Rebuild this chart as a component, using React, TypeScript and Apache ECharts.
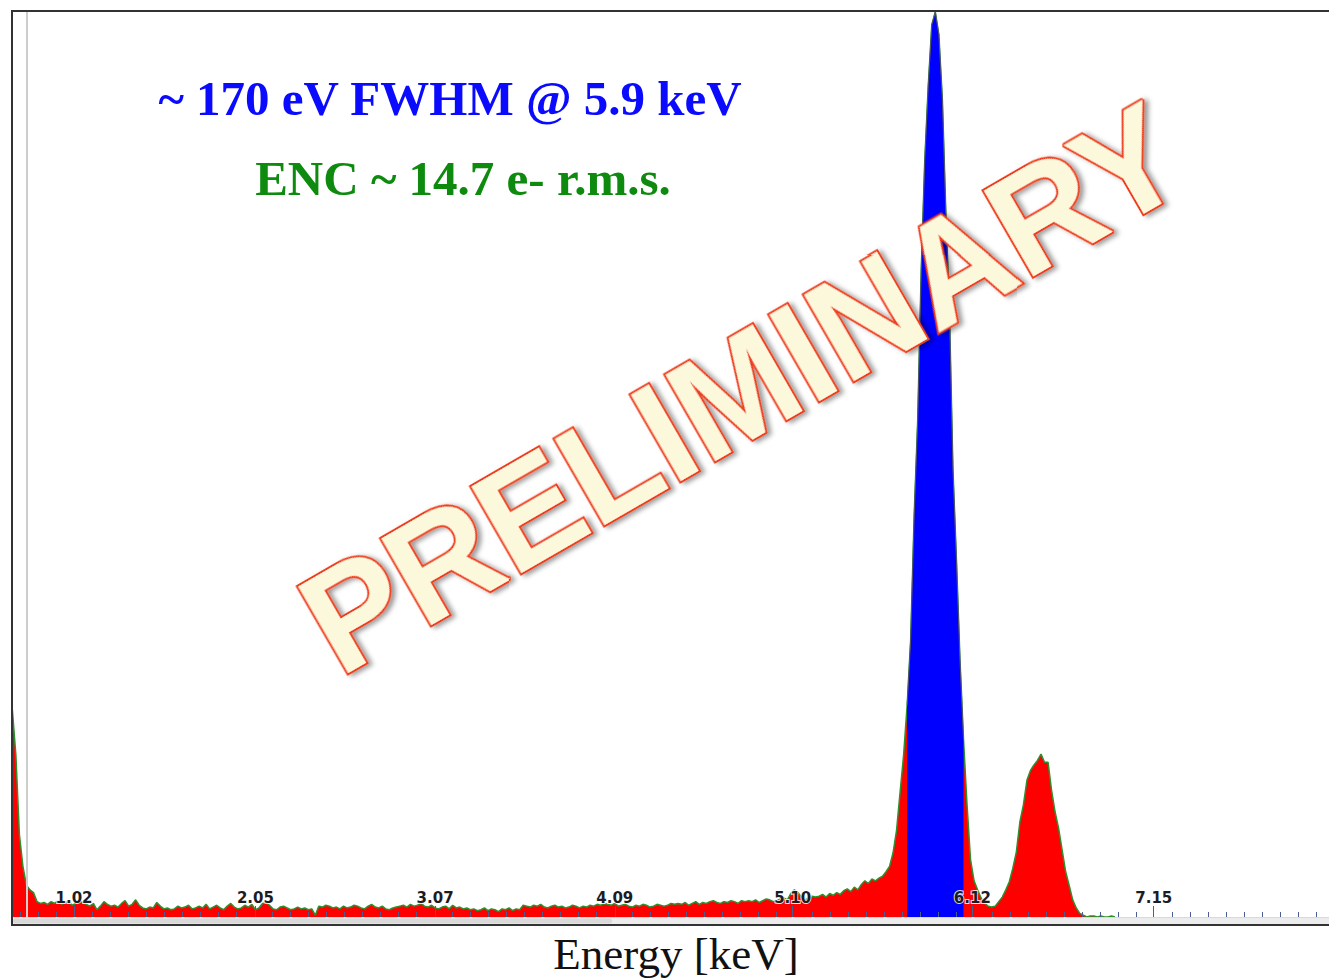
import React, { useEffect, useRef } from "react";
import * as echarts from "echarts";

// ---- calibration of the MCA channels (keV) ----
const channelStartKeV = 0.67;
const channelWidthKeV = 0.02;

// ---- counts per channel (full scale = 1000) ----
const countsThreshold = [229, 179, 91, 56, 35, 30, 27, 17, 15];
const countsFloorA = [16, 14, 17, 15, 18, 14, 16, 17, 13, 15, 18, 16, 14, 12, 15, 8, 12, 17, 14, 12];
const countsFloorB = [13, 11, 15, 18, 12, 14, 19, 13, 10, 9, 11, 10, 16, 12, 9, 10, 8, 9, 12, 10];
const countsFloorC = [11, 13, 9, 10, 12, 10, 14, 9, 11, 13, 10, 8, 12, 15, 11, 9, 10, 13, 11, 14];
const countsFloorD = [8, 10, 15, 16, 13, 9, 8, 11, 12, 10, 8, 9, 11, 9, 10, 8, 9, 2, 12, 11];
const countsFloorE = [13, 12, 10, 11, 9, 12, 10, 11, 13, 12, 10, 9, 12, 14, 11, 10, 12, 9, 8, 10];
const countsFloorF = [11, 12, 13, 11, 14, 12, 13, 15, 12, 11, 13, 10, 9, 11, 12, 9, 13, 10, 11, 9];
const countsFloorG = [10, 8, 9, 7, 8, 10, 7, 9, 8, 6, 9, 8, 10, 7, 9, 8, 13, 12, 11, 13];
const countsFloorH = [12, 14, 11, 10, 12, 13, 11, 12, 10, 11, 13, 12, 10, 12, 11, 13, 12, 14, 13, 15];
const countsFloorI = [14, 13, 15, 12, 13, 14, 12, 11, 13, 12, 14, 13, 11, 12, 14, 13, 12, 13, 15, 14];
const countsFloorJ = [15, 14, 16, 13, 15, 17, 14, 16, 15, 17, 18, 16, 15, 17, 16, 18, 17, 15, 18, 17];
const countsFloorK = [18, 17, 19, 16, 18, 20, 19, 17, 18, 20, 21, 19, 26, 30, 27, 22, 19, 21, 23, 22];
const countsFloorL = [23, 25, 22, 26, 24, 27, 25, 29, 31, 28, 33, 30, 36, 40, 37, 42];
const countsKAlpha = [
  40, 43, 45, 50, 56, 71, 96, 138, 179, 234, 306, 444, 549, 715, 836, 919, 986, 1000,
  975, 903, 776, 671, 494, 394, 284, 196, 124, 63, 40, 30, 21, 15, 12, 11, 12, 17,
];
const countsKBeta = [22, 30, 39, 54, 72, 105, 124, 151, 162, 168, 173, 180, 171, 171, 140, 116, 98, 74, 50, 35, 19, 10, 4, 2];
const countsTail = [0, 1, 1, 0, 1, 0, 0, 1, 0];

// ---- axis ----
const tickLabels = ["1.02", "2.05", "3.07", "4.09", "5.10", "6.12", "7.15"];
const minorTickStepKeV = 0.10217;
const axisMinKeV = 0.668;
const axisMaxKeV = 8.145;
const kAlphaWindowKeV = [5.75, 6.07];

// ---- texts ----
const titleResolution = "~ 170 eV FWHM @ 5.9 keV";
const titleNoise = "ENC ~ 14.7 e- r.m.s.";
const axisTitle = "Energy [keV]";
const watermark = "PRELIMINARY";

export default function App() {
  const ref = useRef<HTMLDivElement>(null);

  useEffect(() => {
    if (!ref.current) return;
    const chart = echarts.init(ref.current, undefined, { renderer: "svg" });

    const counts = [
      ...countsThreshold,
      ...countsFloorA, ...countsFloorB, ...countsFloorC, ...countsFloorD,
      ...countsFloorE, ...countsFloorF, ...countsFloorG, ...countsFloorH,
      ...countsFloorI, ...countsFloorJ, ...countsFloorK, ...countsFloorL,
      ...countsKAlpha, ...countsKBeta, ...countsTail,
    ];
    const spectrum = counts.map((c, i) => [
      +(channelStartKeV + i * channelWidthKeV).toFixed(4),
      c,
    ]);
    const kAlpha = spectrum.filter(
      (p) => p[0] >= kAlphaWindowKeV[0] - 1e-6 && p[0] <= kAlphaWindowKeV[1] + 1e-6
    );
    const majorTicks = tickLabels.map(Number);
    const minorTicks: number[] = [];
    for (let m = 7; m <= 79; m++) {
      if (m % 10 !== 0) minorTicks.push(+(m * minorTickStepKeV).toFixed(4));
    }

    const tickColor = "#4b5e90";

    chart.setOption({
      animation: false,
      grid: {
        left: 12,
        top: 12,
        right: 0,
        height: 905,
        show: false,
        containLabel: false,
        outerBoundsMode: "none",
      },
      xAxis: [
        {
          type: "value",
          min: axisMinKeV,
          max: axisMaxKeV,
          z: 10,
          axisLine: { show: true, lineStyle: { color: "#d8d8d8", width: 1 } },
          splitLine: { show: false },
          axisTick: {
            show: true,
            inside: true,
            length: 11,
            customValues: majorTicks,
            lineStyle: { color: tickColor, width: 1 },
          },
          axisLabel: {
            show: true,
            inside: true,
            margin: 12,
            customValues: majorTicks,
            formatter: (v: number) => v.toFixed(2),
            color: "#1c1c24",
            fontSize: 15,
            fontWeight: "bold",
            fontFamily: '"DejaVu Sans", Verdana, sans-serif',
            textBorderColor: "rgba(255,255,255,0.85)",
            textBorderWidth: 2,
          },
        },
        {
          type: "value",
          min: axisMinKeV,
          max: axisMaxKeV,
          position: "bottom",
          z: 10,
          axisLine: { show: false },
          splitLine: { show: false },
          axisLabel: { show: false },
          axisTick: {
            show: true,
            inside: true,
            length: 5,
            customValues: minorTicks,
            lineStyle: { color: tickColor, width: 1 },
          },
        },
      ],
      yAxis: {
        type: "value",
        min: 0,
        max: 1000,
        show: false,
        splitLine: { show: false },
      },
      series: [
        {
          type: "line",
          xAxisIndex: 0,
          data: spectrum,
          symbol: "none",
          showSymbol: false,
          silent: true,
          lineStyle: { color: "#2f8f2f", width: 1.5 },
          areaStyle: { color: "#ff0000", opacity: 1 },
          z: 2,
        },
        {
          type: "line",
          xAxisIndex: 0,
          data: kAlpha,
          symbol: "none",
          showSymbol: false,
          silent: true,
          lineStyle: { color: "#55556a", width: 1 },
          areaStyle: { color: "#0000ff", opacity: 1 },
          z: 3,
        },
      ],
      graphic: [
        {
          type: "rect",
          z: 1,
          silent: true,
          shape: { x: 13, y: 918, width: 1330, height: 7 },
          style: { fill: "#ececec" },
        },
        {
          type: "rect",
          z: 1,
          silent: true,
          shape: { x: 13, y: 918.5, width: 599, height: 5, r: 2 },
          style: { fill: "#d9d9d9" },
        },
        {
          type: "line",
          z: 20,
          silent: true,
          shape: { x1: 27, y1: 12, x2: 27, y2: 917 },
          style: { stroke: "#cdcdcd", lineWidth: 2 },
        },
        {
          type: "rect",
          z: 30,
          silent: true,
          shape: { x: 12, y: 11, width: 1340, height: 914 },
          style: { fill: "none", stroke: "#333333", lineWidth: 2 },
        },
        {
          type: "text",
          z: 40,
          silent: true,
          x: 450,
          y: 98,
          style: {
            text: titleResolution,
            fill: "#0a0aff",
            font: 'bold 49px "Liberation Serif", "DejaVu Serif", serif',
            align: "center",
            verticalAlign: "middle",
            textAlign: "center",
            textVerticalAlign: "middle",
          },
        },
        {
          type: "text",
          z: 40,
          silent: true,
          x: 463,
          y: 178,
          style: {
            text: titleNoise,
            fill: "#0e8a0e",
            font: 'bold 49px "Liberation Serif", "DejaVu Serif", serif',
            align: "center",
            verticalAlign: "middle",
            textAlign: "center",
            textVerticalAlign: "middle",
          },
        },
        {
          type: "text",
          z: 40,
          silent: true,
          x: 676,
          y: 954,
          style: {
            text: axisTitle,
            fill: "#111111",
            font: '45px "Liberation Serif", "DejaVu Serif", serif',
            align: "center",
            verticalAlign: "middle",
            textAlign: "center",
            textVerticalAlign: "middle",
          },
        },
        {
          type: "text",
          z: 50,
          silent: true,
          x: 742,
          y: 388,
          rotation: Math.PI / 6,
          style: {
            text: watermark,
            fill: "#fcf8dc",
            stroke: "#ee3e1c",
            lineWidth: 4,
            font: 'bold 144px "Liberation Sans", Arial, sans-serif',
            align: "center",
            verticalAlign: "middle",
            textAlign: "center",
            textVerticalAlign: "middle",
            textShadowColor: "rgba(0,0,0,0.4)",
            textShadowBlur: 5,
            textShadowOffsetX: 3,
            textShadowOffsetY: 3,
          },
        },
      ],
    });

    return () => {
      chart.dispose();
    };
  }, []);

  return (
    <div
      ref={ref}
      style={{ position: "absolute", left: 0, top: 0, width: 1329, height: 979 }}
    />
  );
}
